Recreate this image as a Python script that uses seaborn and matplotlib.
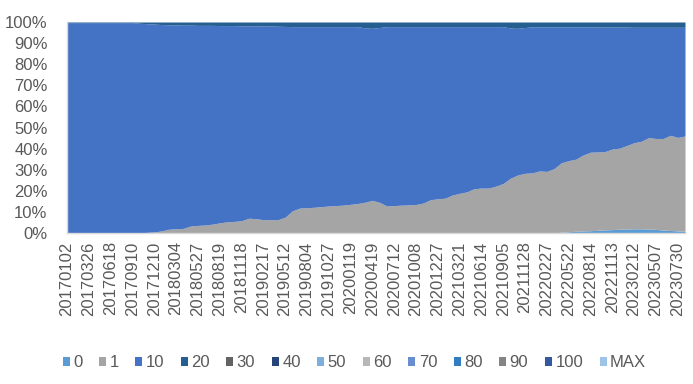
import matplotlib
matplotlib.use("Agg")
import matplotlib.pyplot as plt
import numpy as np
import seaborn as sns

# ---- data -------------------------------------------------------------
dates = [
    "20170102", "20170129", "20170226", "20170326", "20170423", "20170521",
    "20170618", "20170716", "20170813", "20170910", "20171015", "20171112",
    "20171210", "20180107", "20180204", "20180304", "20180401", "20180429",
    "20180527", "20180624", "20180722", "20180819", "20180916", "20181021",
    "20181118", "20181216", "20190113", "20190217", "20190317", "20190414",
    "20190512", "20190609", "20190707", "20190804", "20190901", "20190929",
    "20191027", "20191124", "20191222", "20200119", "20200223", "20200322",
    "20200419", "20200517", "20200614", "20200712", "20200809", "20200906",
    "20201008", "20201108", "20201206", "20201227", "20210124", "20210221",
    "20210321", "20210418", "20210516", "20210614", "20210711", "20210808",
    "20210905", "20211010", "20211031", "20211128", "20211226", "20220123",
    "20220227", "20220327", "20220424", "20220522", "20220619", "20220717",
    "20220814", "20220911", "20221016", "20221113", "20221211", "20230108",
    "20230212", "20230312", "20230409", "20230507", "20230604", "20230702",
    "20230730", "20230827",
]

series_names = ["0", "1", "10", "20", "30", "40", "50", "60", "70", "80", "90", "100", "MAX"]

share_0 = [0.0] * 68 + [0.4, 0.6, 0.8, 1.0, 1.1, 1.3, 1.5, 1.6, 1.8, 1.9,
                        2.0, 2.0, 1.9, 1.7, 1.4, 1.2, 1.0, 0.8]

share_1 = [0.0] * 11 + [
    0.3, 0.5, 1.0, 1.8, 2.0, 2.2, 3.3, 3.6, 3.8, 4.2,
    4.8, 5.3, 5.5, 5.8, 7.0, 6.8, 6.3, 6.3, 6.3, 7.5,
    10.5, 11.8, 12.0, 12.2, 12.5, 12.8, 13.0, 13.2, 13.6, 14.0,
    14.6, 15.5, 14.5, 12.8, 13.0, 13.2, 13.3, 13.5, 14.2, 15.8,
    16.2, 16.5, 18.0, 18.8, 19.5, 21.0, 21.3, 21.3, 22.2, 23.5,
    26.0, 27.5, 28.3, 28.5, 29.4, 29.2, 30.5,
    32.9, 33.7, 34.2, 36.0, 37.2, 37.1, 37.1, 38.2, 38.4, 39.6,
    40.8, 41.5, 43.3, 43.1, 43.4, 45.1, 44.3, 45.2,
]

share_20 = [0.3] * 10 + [
    0.6, 0.8, 1.0, 1.2, 1.3, 1.4, 1.5, 1.5, 1.6, 1.6,
    1.6, 1.7, 1.7, 1.7, 1.8, 1.8, 1.8, 1.9, 1.9, 2.0,
    2.1, 2.2, 2.2, 2.2, 2.2, 2.2, 2.2, 2.2, 2.2, 2.2,
    2.2, 2.8, 3.0, 2.6, 2.2, 2.2, 2.2, 2.2, 2.2, 2.2,
    2.2, 2.2, 2.2, 2.2, 2.2, 2.2, 2.2, 2.2, 2.2, 2.2,
    2.2, 2.9, 3.0, 2.6, 2.3, 2.3, 2.3, 2.3, 2.3, 2.3,
    2.3, 2.3, 2.3, 2.4, 2.4, 2.4, 2.4, 2.4, 2.5, 2.5,
    2.5, 2.5, 2.5, 2.5, 2.5, 2.5,
]

zeros = [0.0] * len(dates)
share_10 = (100 - np.array(share_0) - np.array(share_1) - np.array(share_20)).tolist()

values = {
    "0": share_0, "1": share_1, "10": share_10, "20": share_20,
    "30": zeros, "40": zeros, "50": zeros, "60": zeros, "70": zeros,
    "80": zeros, "90": zeros, "100": zeros, "MAX": zeros,
}

colors = ["#5B9BD5", "#A5A5A5", "#4472C4", "#255E91", "#636363", "#264478",
          "#7CAFDD", "#B7B7B7", "#698ED0", "#327DC2", "#848484", "#335AA1",
          "#9DC3E6"]

y_ticks = [0, 10, 20, 30, 40, 50, 60, 70, 80, 90, 100]
label_step = 3

# ---- style ------------------------------------------------------------
sns.set_theme(style="white")
plt.rcParams["font.family"] = ["Liberation Sans", "DejaVu Sans"]
palette = sns.color_palette(colors)

fig = plt.figure(figsize=(6.93, 3.84), dpi=100)
ax = fig.add_axes([67 / 693, 1 - 233 / 384, (685 - 67) / 693, (233 - 22) / 384])

x = np.arange(len(dates))
ax.stackplot(x, [values[n] for n in series_names], labels=series_names,
             colors=palette, linewidth=0)

ax.set_xlim(0, len(dates) - 1)
ax.set_ylim(0, 100)
ax.set_yticks(y_ticks)
ax.set_yticklabels([f"{v}%" for v in y_ticks])
ax.set_xticks(x[::label_step])
ax.set_xticklabels(dates[::label_step], rotation=90, ha="center", va="top")
ax.tick_params(axis="both", length=0, labelsize=12, colors="#595959", pad=6)
ax.tick_params(axis="y", pad=14)

for s in ["top", "right"]:
    ax.spines[s].set_visible(False)
for s in ["left", "bottom"]:
    ax.spines[s].set_color("#D9D9D9")
    ax.spines[s].set_linewidth(1)

leg = fig.legend(loc="center", bbox_to_anchor=(0.5115, 0.055), ncol=13,
                 frameon=False, fontsize=12, handlelength=0.42, handleheight=0.42,
                 handletextpad=0.2, columnspacing=1.0, labelcolor="#595959")

fig.savefig("out.png", dpi=100)
